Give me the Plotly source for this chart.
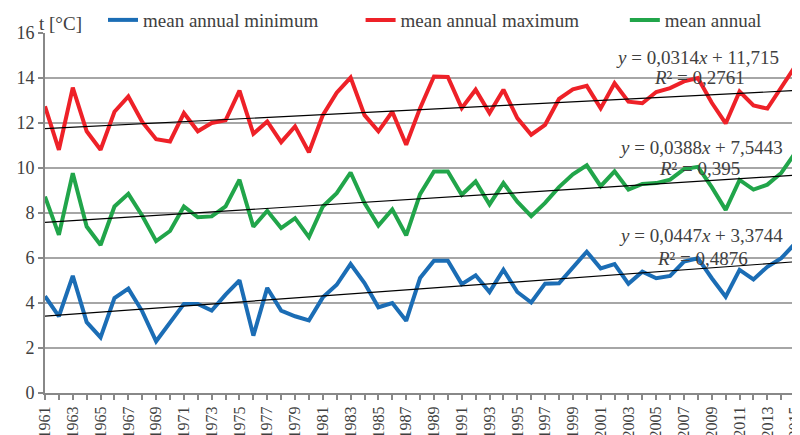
import plotly.graph_objects as go

years = list(range(1961, 2017))

t_min = [4.30, 3.41, 5.21, 3.15, 2.47, 4.22, 4.64, 3.63, 2.30, 3.11,
         3.96, 3.96, 3.66, 4.37, 5.01, 2.55, 4.67, 3.66, 3.41, 3.23,
         4.25, 4.81, 5.73, 4.89, 3.81, 4.00, 3.21, 5.11, 5.88, 5.88,
         4.84, 5.23, 4.49, 5.48, 4.49, 4.02, 4.86, 4.88, 5.61, 6.28,
         5.54, 5.73, 4.85, 5.39, 5.10, 5.20, 5.84, 5.99, 5.10, 4.28,
         5.47, 5.05, 5.61, 5.99, 6.65, 6.10]

t_max = [12.74, 10.81, 13.57, 11.63, 10.81, 12.50, 13.18, 12.05, 11.28, 11.18,
         12.44, 11.63, 12.00, 12.12, 13.44, 11.52, 12.07, 11.15, 11.85, 10.70,
         12.35, 13.35, 14.02, 12.35, 11.63, 12.50, 11.03, 12.66, 14.07, 14.05,
         12.66, 13.48, 12.44, 13.48, 12.22, 11.48, 11.92, 13.07, 13.50, 13.65,
         12.65, 13.77, 12.95, 12.88, 13.38, 13.55, 13.85, 14.00, 12.90, 11.98,
         13.40, 12.78, 12.64, 13.58, 14.52, 13.45]

t_mean = [8.73, 7.03, 9.77, 7.40, 6.58, 8.29, 8.85, 7.88, 6.75, 7.20,
          8.29, 7.81, 7.85, 8.29, 9.48, 7.39, 8.10, 7.33, 7.77, 6.93,
          8.29, 8.88, 9.80, 8.44, 7.44, 8.16, 7.01, 8.84, 9.85, 9.85,
          8.81, 9.40, 8.38, 9.33, 8.50, 7.86, 8.45, 9.15, 9.72, 10.12,
          9.19, 9.85, 9.04, 9.29, 9.33, 9.48, 9.95, 10.05, 9.15, 8.14,
          9.47, 9.04, 9.26, 9.78, 10.67, 9.92]

series_names = ["mean annual minimum", "mean annual maximum", "mean annual"]
series_colors = ["#1B6DB5", "#EE2128", "#21A54A"]
series_values = [t_min, t_max, t_mean]

trend_slopes = [0.0447, 0.0314, 0.0388]
trend_intercepts = [3.3744, 11.715, 7.5443]
trend_eq_text = ["<i>y</i> = 0,0447<i>x</i> + 3,3744",
                 "<i>y</i> = 0,0314<i>x</i> + 11,715",
                 "<i>y</i> = 0,0388<i>x</i> + 7,5443"]
trend_r2_text = ["<i>R</i>² = 0,4876", "<i>R</i>² = 0,2761", "<i>R</i>² = 0,395"]

y_ticks = [0, 2, 4, 6, 8, 10, 12, 14, 16]

FONT = "Liberation Serif"
TXT = "#404040"

fig = go.Figure()

legend_ids = ["legend", "legend2", "legend3"]
for name, col, vals, lg in zip(series_names, series_colors, series_values, legend_ids):
    fig.add_trace(go.Scatter(x=years, y=vals, mode="lines", name=name,
                             line=dict(color=col, width=4), legend=lg))

for s, b in zip(trend_slopes, trend_intercepts):
    idx = [yr - years[0] + 1 for yr in years]
    fig.add_trace(go.Scatter(x=years, y=[s * i + b for i in idx], mode="lines",
                             line=dict(color="black", width=1.2),
                             showlegend=False, hoverinfo="skip"))

# equation labels (positions in data coords)
eq_pos = [(2008.2, 6.98, 2008.3, 6.0),
          (2008.0, 14.93, 2008.1, 14.04),
          (2008.25, 10.93, 2008.1, 10.0)]
for (ex, ey, rx, ry), et, rt in zip(eq_pos, trend_eq_text, trend_r2_text):
    fig.add_annotation(x=ex, y=ey, text=et, showarrow=False,
                       font=dict(family=FONT, size=19, color=TXT),
                       xanchor="center", yanchor="middle")
    fig.add_annotation(x=rx, y=ry, text=rt, showarrow=False,
                       font=dict(family=FONT, size=19, color=TXT),
                       xanchor="center", yanchor="middle")

fig.add_annotation(xref="paper", yref="paper", x=-0.01, y=1.0, yshift=10,
                   text="t [°C]", showarrow=False, xanchor="left", yanchor="middle",
                   font=dict(family=FONT, size=19, color=TXT))

leg_common = dict(orientation="h", xanchor="left", y=1.036, yanchor="middle",
                  font=dict(family=FONT, size=19, color=TXT),
                  bgcolor="rgba(0,0,0,0)", itemclick=False, borderwidth=0)

# page body has an 8px default margin, so the figure is offset by 8px
fig.update_layout(
    width=792, height=427,
    margin=dict(l=37, r=0, t=25, b=42, autoexpand=False),
    paper_bgcolor="white", plot_bgcolor="white",
    font=dict(family=FONT, size=18, color=TXT),
    showlegend=True,
    legend=dict(x=0.0768, **leg_common),
    legend2=dict(x=0.418, **leg_common),
    legend3=dict(x=0.768, **leg_common),
)

fig.update_xaxes(range=[1961, 2015.35], tick0=1961, dtick=2, tickangle=-90,
                 ticks="outside", ticklen=5, tickcolor="#888888", tickwidth=1.5,
                 showline=True, linecolor="#888888", linewidth=2,
                 showgrid=False, zeroline=False, automargin=False,
                 ticklabeloverflow="allow",
                 tickfont=dict(family=FONT, size=16, color=TXT),
                 minor=dict(dtick=1, tick0=1961, ticks="outside", ticklen=5,
                            tickcolor="#888888", tickwidth=1.5, showgrid=False))

fig.update_yaxes(range=[0, 16], tickvals=y_ticks, ticktext=[str(v) for v in y_ticks],
                 ticks="outside", ticklen=5, tickcolor="#888888", tickwidth=1.5,
                 showline=True, linecolor="#888888", linewidth=2, automargin=False,
                 showgrid=True, gridcolor="#A6A6A6", gridwidth=1.5, zeroline=False,
                 tickfont=dict(family=FONT, size=18, color=TXT))

fig.write_html("out.html")
